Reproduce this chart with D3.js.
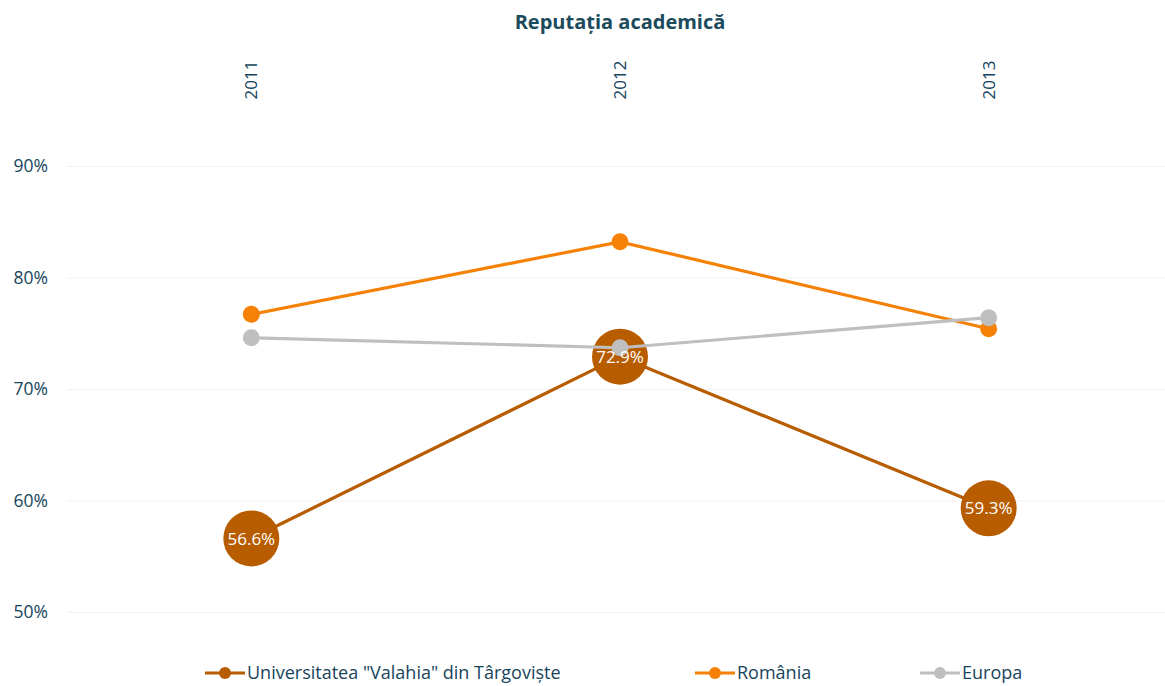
<!DOCTYPE html>
<html><head><meta charset="utf-8">
<script src="https://cdn.jsdelivr.net/npm/d3@7"></script>
<style>body{margin:0;background:#fff}svg{display:block}</style>
</head><body><svg id="c" width="1165" height="686"></svg>
<script>
const years = ["2011","2012","2013"];
const univ = [56.6, 72.9, 59.3];
const romania = [76.7, 83.2, 75.4];
const europa = [74.6, 73.7, 76.4];
const yTicks = [50, 60, 70, 80, 90];
const seriesNames = ['Universitatea "Valahia" din Târgoviște', "România", "Europa"];
const colors = ["#B85C00", "#F58207", "#BFBFBF"];
const textColor = "#17455C";

const svg = d3.select("#c");
const x = d3.scaleBand().domain(years).range([67, 1173]);
const cx = d => x(d) + x.bandwidth()/2;
const y = d3.scaleLinear().domain([50, 90]).range([612, 166]);

svg.append("text").attr("x", 620).attr("y", 29).attr("text-anchor","middle")
  .style("font-family","'Open Sans', sans-serif").style("font-weight","bold").style("font-size","20px")
  .attr("fill","#1B4A5C").text("Reputația academică");

// grid
const yAxis = d3.axisLeft(y).tickValues(yTicks).tickFormat(d => d + "%").tickSize(-1106).tickPadding(19);
const ga = svg.append("g").attr("transform","translate(67,0)").call(yAxis);
ga.select(".domain").remove();
ga.selectAll("line").attr("stroke","#F2F2F2");
ga.selectAll("text").attr("fill", textColor).style("font-family","'Open Sans', sans-serif").style("font-size","17.5px");

// x labels
const xAxis = d3.axisTop(x).tickSize(0);
const gx = svg.append("g").attr("transform","translate(0,80)").call(xAxis);
gx.select(".domain").remove();
gx.selectAll("text").attr("transform","rotate(-90)").attr("x",0).attr("y",0).attr("dy","0.35em")
  .attr("text-anchor","middle").attr("fill", textColor)
  .style("font-family","'Open Sans', sans-serif").style("font-size","17px");

const data = [univ, romania, europa];
const line = d3.line().x((d,i) => cx(years[i])).y(d => y(d));
data.forEach((vals, k) => {
  svg.append("path").datum(vals).attr("d", line).attr("fill","none")
    .attr("stroke", colors[k]).attr("stroke-width", 3.2);
  svg.selectAll(null).data(vals).enter().append("circle")
    .attr("cx",(d,i)=>cx(years[i])).attr("cy", d=>y(d))
    .attr("r", k===0 ? 28 : 8.5).attr("fill", colors[k]);
});
svg.selectAll(null).data(univ).enter().append("text")
  .attr("x",(d,i)=>cx(years[i])).attr("y", d=>y(d)).attr("dy","0.36em")
  .attr("text-anchor","middle").attr("fill","#fff")
  .style("font-family","'Open Sans', sans-serif").style("font-size","17px")
  .text(d => d.toFixed(1) + "%");

// legend
const legX = [205, 695, 920];
seriesNames.forEach((n,k) => {
  const g = svg.append("g").attr("transform", `translate(${legX[k]},673)`);
  g.append("line").attr("x1",0).attr("x2",40).attr("stroke",colors[k]).attr("stroke-width",3.2);
  g.append("circle").attr("cx",20).attr("r",6).attr("fill",colors[k]);
  g.append("text").attr("x",42).attr("dy","0.35em").attr("fill",textColor)
    .style("font-family","'Liberation Sans Narrow', 'Open Sans', sans-serif").style("font-size","18px").text(n);
});
</script></body></html>
